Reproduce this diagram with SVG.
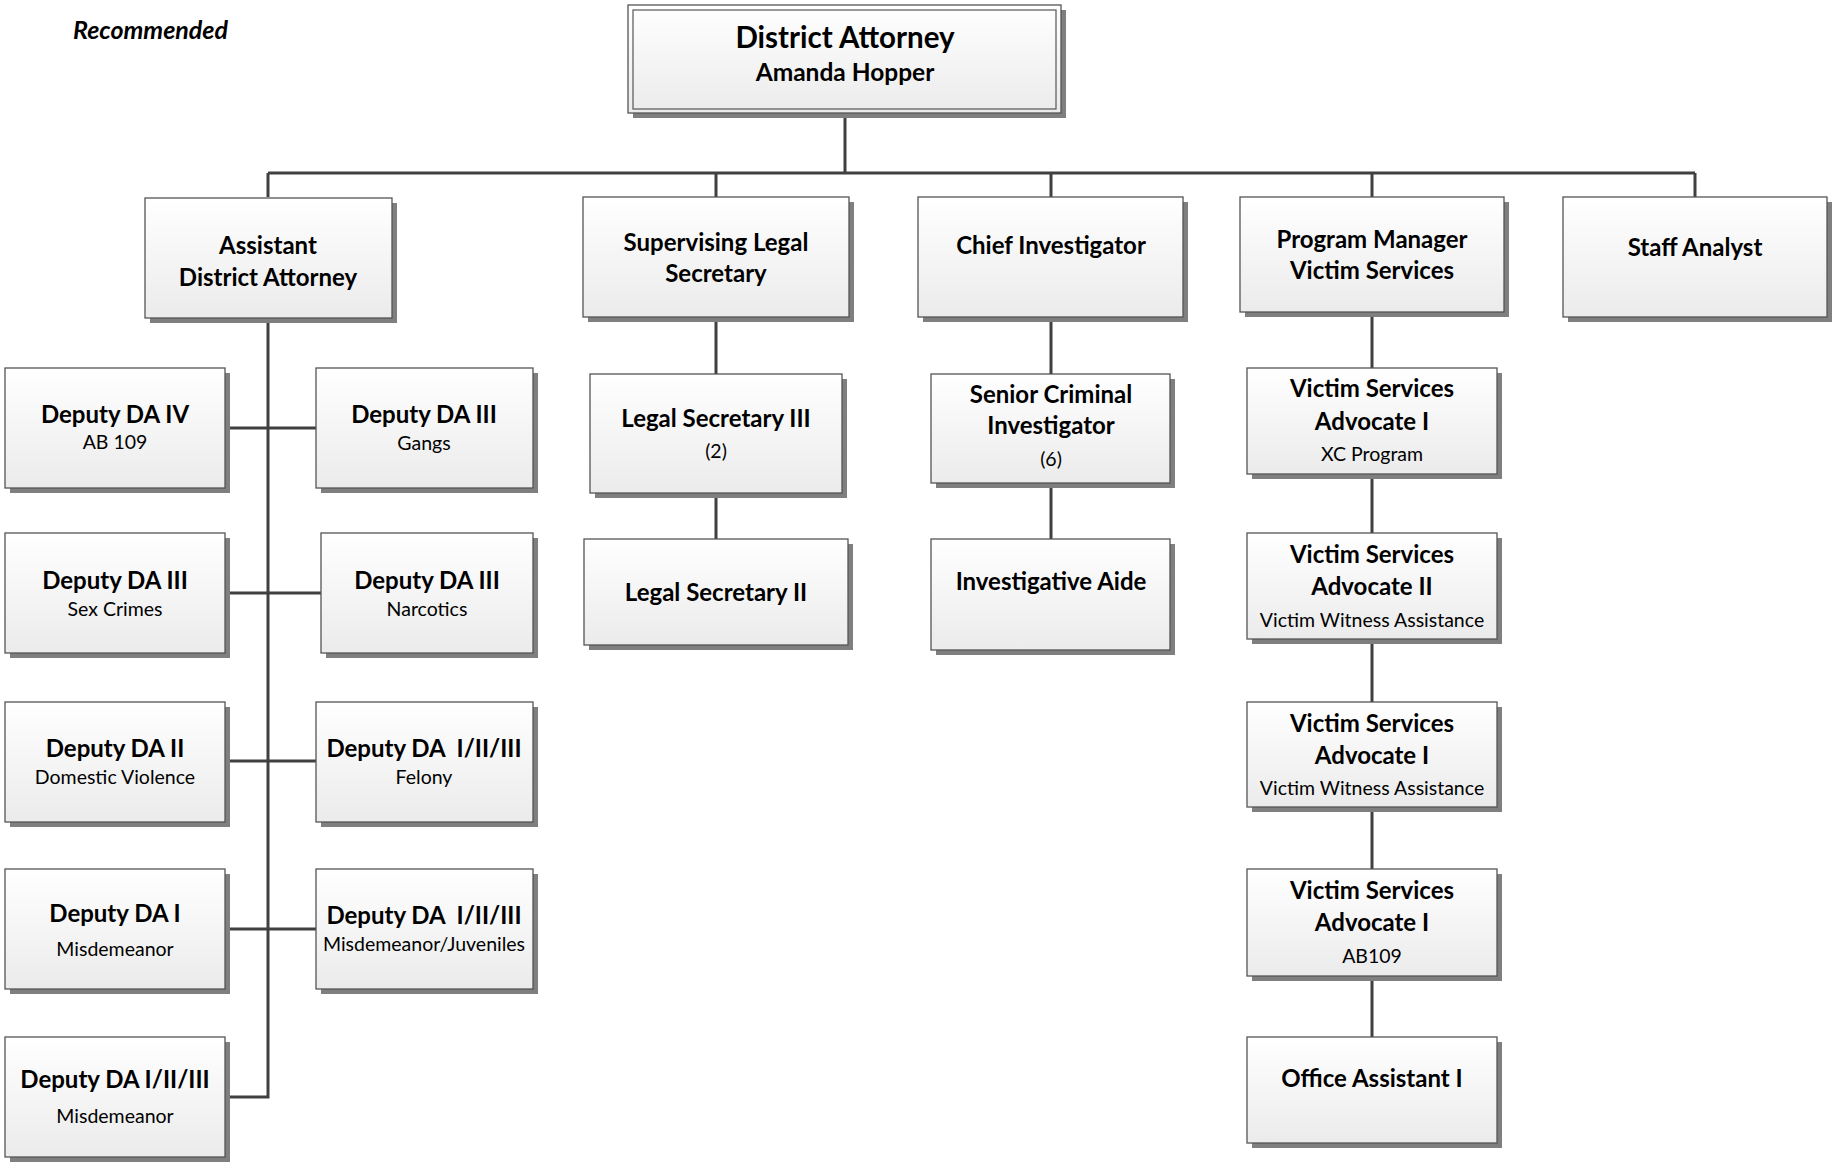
<svg xmlns="http://www.w3.org/2000/svg" width="1838" height="1167" viewBox="0 0 1838 1167">
<defs>
<linearGradient id="boxfill" x1="0" y1="0" x2="0" y2="1">
<stop offset="0" stop-color="#ffffff"/>
<stop offset="1" stop-color="#ebebeb"/>
</linearGradient>
</defs>
<style>
.bg{fill:#ffffff}
.sh{fill:#7f7f7f}
.bx{fill:url(#boxfill);stroke:#555555;stroke-width:1.3}
.inner{fill:none;stroke:#555555;stroke-width:1.2}
.conn{fill:none;stroke:#404040;stroke-width:3}
text{font-family:Lato,"Liberation Sans",sans-serif;fill:#000000;text-anchor:middle;white-space:pre}
.t{font-size:24px;font-weight:bold}
.s{font-size:19.5px}
.top1{font-size:29.5px;font-weight:bold}
.top2{font-size:24.5px;font-weight:bold}
.rec{font-size:25px;font-weight:bold;font-style:italic;text-anchor:start}
</style>
<rect class="bg" x="0" y="0" width="1838" height="1167"/>
<text class="rec" x="73" y="39">Recommended</text>

<g id="connectors">
<path class="conn" d="M845 113 V173 M268 173 H1695 M268 173 V197 M716 173 V197 M1051 173 V197 M1372 173 V197 M1695 173 V197"/>
<path class="conn" d="M268 317 V1097 H225 M225 428 H316 M225 593 H321 M225 761 H316 M225 929 H316"/>
<path class="conn" d="M716 317 V374 M716 493 V539"/>
<path class="conn" d="M1051 317 V374 M1051 483 V539"/>
<path class="conn" d="M1372 312 V368 M1372 474 V533 M1372 639 V702 M1372 807 V869 M1372 976 V1037"/>
</g>

<g id="district-attorney">
<rect class="sh" x="633" y="10" width="433" height="108"/>
<rect class="bx" x="628" y="5" width="433" height="108"/>
<rect class="inner" x="633" y="10" width="423" height="99"/>
<text class="top1" x="845" y="48">District Attorney</text>
<text class="top2" x="845" y="81">Amanda Hopper</text>
</g>

<g id="assistant-da">
<rect class="sh" x="150" y="203" width="247" height="120"/>
<rect class="bx" x="145" y="198" width="247" height="120"/>
<text class="t" x="268" y="254">Assistant</text>
<text class="t" x="268" y="286">District Attorney</text>
</g>

<g id="supervising-legal-secretary">
<rect class="sh" x="588" y="202" width="266" height="120"/>
<rect class="bx" x="583" y="197" width="266" height="120"/>
<text class="t" x="716" y="251">Supervising Legal</text>
<text class="t" x="716" y="282">Secretary</text>
</g>

<g id="chief-investigator">
<rect class="sh" x="923" y="202" width="265" height="120"/>
<rect class="bx" x="918" y="197" width="265" height="120"/>
<text class="t" x="1051" y="254">Chief Investigator</text>
</g>

<g id="program-manager">
<rect class="sh" x="1245" y="202" width="264" height="115"/>
<rect class="bx" x="1240" y="197" width="264" height="115"/>
<text class="t" x="1372" y="248">Program Manager</text>
<text class="t" x="1372" y="279">Victim Services</text>
</g>

<g id="staff-analyst">
<rect class="sh" x="1568" y="202" width="264" height="120"/>
<rect class="bx" x="1563" y="197" width="264" height="120"/>
<text class="t" x="1695" y="256">Staff Analyst</text>
</g>

<g id="deputy-da-iv-ab109">
<rect class="sh" x="10" y="373" width="220" height="120"/>
<rect class="bx" x="5" y="368" width="220" height="120"/>
<text class="t" x="115" y="423">Deputy DA IV</text>
<text class="s" x="115" y="449">AB 109</text>
</g>

<g id="deputy-da-iii-gangs">
<rect class="sh" x="321" y="373" width="217" height="120"/>
<rect class="bx" x="316" y="368" width="217" height="120"/>
<text class="t" x="424" y="423">Deputy DA III</text>
<text class="s" x="424" y="450">Gangs</text>
</g>

<g id="deputy-da-iii-sex-crimes">
<rect class="sh" x="10" y="538" width="220" height="120"/>
<rect class="bx" x="5" y="533" width="220" height="120"/>
<text class="t" x="115" y="589">Deputy DA III</text>
<text class="s" x="115" y="616">Sex Crimes</text>
</g>

<g id="deputy-da-iii-narcotics">
<rect class="sh" x="326" y="538" width="212" height="120"/>
<rect class="bx" x="321" y="533" width="212" height="120"/>
<text class="t" x="427" y="589">Deputy DA III</text>
<text class="s" x="427" y="616">Narcotics</text>
</g>

<g id="deputy-da-ii-domestic-violence">
<rect class="sh" x="10" y="707" width="220" height="120"/>
<rect class="bx" x="5" y="702" width="220" height="120"/>
<text class="t" x="115" y="757">Deputy DA II</text>
<text class="s" x="115" y="784">Domestic Violence</text>
</g>

<g id="deputy-da-felony">
<rect class="sh" x="321" y="707" width="217" height="120"/>
<rect class="bx" x="316" y="702" width="217" height="120"/>
<text class="t" x="424" y="757">Deputy DA  I/II/III</text>
<text class="s" x="424" y="784">Felony</text>
</g>

<g id="deputy-da-i-misdemeanor">
<rect class="sh" x="10" y="874" width="220" height="120"/>
<rect class="bx" x="5" y="869" width="220" height="120"/>
<text class="t" x="115" y="922">Deputy DA I</text>
<text class="s" x="115" y="956">Misdemeanor</text>
</g>

<g id="deputy-da-misdemeanor-juveniles">
<rect class="sh" x="321" y="874" width="217" height="120"/>
<rect class="bx" x="316" y="869" width="217" height="120"/>
<text class="t" x="424" y="924">Deputy DA  I/II/III</text>
<text class="s" x="424" y="951">Misdemeanor/Juveniles</text>
</g>

<g id="deputy-da-i-ii-iii-misdemeanor">
<rect class="sh" x="10" y="1042" width="220" height="120"/>
<rect class="bx" x="5" y="1037" width="220" height="120"/>
<text class="t" x="115" y="1088">Deputy DA I/II/III</text>
<text class="s" x="115" y="1123">Misdemeanor</text>
</g>

<g id="legal-secretary-iii">
<rect class="sh" x="595" y="379" width="252" height="119"/>
<rect class="bx" x="590" y="374" width="252" height="119"/>
<text class="t" x="716" y="427">Legal Secretary III</text>
<text class="s" x="716" y="458">(2)</text>
</g>

<g id="legal-secretary-ii">
<rect class="sh" x="589" y="544" width="264" height="106"/>
<rect class="bx" x="584" y="539" width="264" height="106"/>
<text class="t" x="716" y="601">Legal Secretary II</text>
</g>

<g id="senior-criminal-investigator">
<rect class="sh" x="936" y="379" width="239" height="109"/>
<rect class="bx" x="931" y="374" width="239" height="109"/>
<text class="t" x="1051" y="403">Senior Criminal</text>
<text class="t" x="1051" y="434">Investigator</text>
<text class="s" x="1051" y="466">(6)</text>
</g>

<g id="investigative-aide">
<rect class="sh" x="936" y="544" width="239" height="111"/>
<rect class="bx" x="931" y="539" width="239" height="111"/>
<text class="t" x="1051" y="590">Investigative Aide</text>
</g>

<g id="vsa-i-xc-program">
<rect class="sh" x="1252" y="373" width="250" height="106"/>
<rect class="bx" x="1247" y="368" width="250" height="106"/>
<text class="t" x="1372" y="397">Victim Services</text>
<text class="t" x="1372" y="430">Advocate I</text>
<text class="s" x="1372" y="461">XC Program</text>
</g>

<g id="vsa-ii-victim-witness">
<rect class="sh" x="1252" y="538" width="250" height="106"/>
<rect class="bx" x="1247" y="533" width="250" height="106"/>
<text class="t" x="1372" y="563">Victim Services</text>
<text class="t" x="1372" y="595">Advocate II</text>
<text class="s" x="1372" y="627">Victim Witness Assistance</text>
</g>

<g id="vsa-i-victim-witness">
<rect class="sh" x="1252" y="707" width="250" height="105"/>
<rect class="bx" x="1247" y="702" width="250" height="105"/>
<text class="t" x="1372" y="732">Victim Services</text>
<text class="t" x="1372" y="764">Advocate I</text>
<text class="s" x="1372" y="795">Victim Witness Assistance</text>
</g>

<g id="vsa-i-ab109">
<rect class="sh" x="1252" y="874" width="250" height="107"/>
<rect class="bx" x="1247" y="869" width="250" height="107"/>
<text class="t" x="1372" y="899">Victim Services</text>
<text class="t" x="1372" y="931">Advocate I</text>
<text class="s" x="1372" y="963">AB109</text>
</g>

<g id="office-assistant-i">
<rect class="sh" x="1252" y="1042" width="250" height="106"/>
<rect class="bx" x="1247" y="1037" width="250" height="106"/>
<text class="t" x="1372" y="1087">Office Assistant I</text>
</g>
</svg>
